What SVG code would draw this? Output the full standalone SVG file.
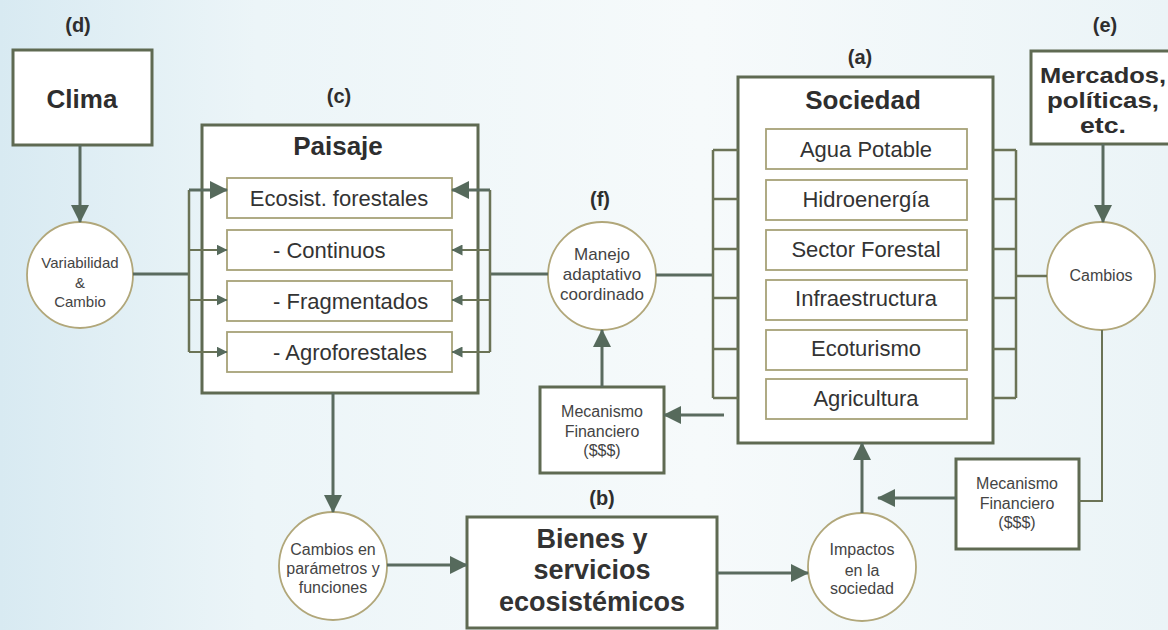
<svg xmlns="http://www.w3.org/2000/svg" width="1168" height="630" viewBox="0 0 1168 630">
<defs>
<linearGradient id="bg" x1="0" y1="0" x2="1" y2="0">
<stop offset="0" stop-color="#d8eaf2"/>
<stop offset="0.22" stop-color="#ecf5f8"/>
<stop offset="0.6" stop-color="#f6fafb"/>
<stop offset="1" stop-color="#ebf4f7"/>
</linearGradient>
<marker id="big" viewBox="0 0 18 18" markerWidth="18" markerHeight="18" refX="17" refY="9" orient="auto" markerUnits="userSpaceOnUse">
<path d="M0,0 L18,9 L0,18 z" fill="#566a5c"/>
</marker>
<marker id="small" viewBox="0 0 11 11" markerWidth="11" markerHeight="11" refX="10.5" refY="5.5" orient="auto" markerUnits="userSpaceOnUse">
<path d="M0,0 L11,5.5 L0,11 z" fill="#566a5c"/>
</marker>
</defs>
<style>
.box{fill:#fff;stroke:#5f6a52;stroke-width:3}
.inner{fill:#fff;stroke:#a7a278;stroke-width:1.8}
.circ{fill:#fff;stroke:#b1a77a;stroke-width:1.8}
.ln{fill:none;stroke:#5a6b5f;stroke-width:3}
.br{fill:none;stroke:#6b7356;stroke-width:2.5}
.th{fill:none;stroke:#6b7356;stroke-width:2}
text{font-family:"Liberation Sans",Arial,sans-serif;text-anchor:middle}
.lbl{font-size:20px;font-weight:bold;fill:#2e2e2e}
.title{font-size:26px;font-weight:bold;fill:#2e2e2e}
.merc{font-size:22px;font-weight:bold;fill:#2e2e2e}
.big{font-size:27px;font-weight:bold;fill:#333}
.item{font-size:22px;fill:#333}
.left{text-anchor:start}
.sm{font-size:16px;fill:#444}
</style>
<rect x="0" y="0" width="1168" height="630" fill="url(#bg)"/>

<g id="labels">
<text class="lbl" x="78" y="32">(d)</text>
<text class="lbl" x="339" y="103">(c)</text>
<text class="lbl" x="600" y="206">(f)</text>
<text class="lbl" x="860" y="64">(a)</text>
<text class="lbl" x="1105" y="32">(e)</text>
<text class="lbl" x="602" y="505">(b)</text>
</g>

<g id="clima">
<rect class="box" x="13" y="50" width="139" height="95"/>
<text class="title" x="82" y="108">Clima</text>
</g>

<g id="variabilidad">
<circle class="circ" cx="80" cy="275" r="53"/>
<text class="sm" x="80" y="268" style="font-size:15px">Variabilidad</text>
<text class="sm" x="80" y="288" style="font-size:15px">&amp;</text>
<text class="sm" x="80" y="307" style="font-size:15px">Cambio</text>
</g>

<g id="paisaje">
<rect class="box" x="202" y="125" width="276" height="268"/>
<text class="title" x="338" y="155">Paisaje</text>
<rect class="inner" x="227" y="178" width="225" height="40"/>
<text class="item" x="339" y="206">Ecosist. forestales</text>
<rect class="inner" x="227" y="230" width="225" height="40"/>
<text class="item left" x="273" y="258">- Continuos</text>
<rect class="inner" x="227" y="281" width="225" height="40"/>
<text class="item left" x="273" y="309">- Fragmentados</text>
<rect class="inner" x="227" y="332" width="225" height="40"/>
<text class="item left" x="273" y="360">- Agroforestales</text>
</g>

<g id="manejo">
<circle class="circ" cx="602" cy="276" r="54"/>
<text class="sm" x="602" y="260" style="font-size:17px">Manejo</text>
<text class="sm" x="602" y="280" style="font-size:17px">adaptativo</text>
<text class="sm" x="602" y="300" style="font-size:17px">coordinado</text>
</g>

<g id="mecanismo-izq">
<rect class="box" x="540" y="387" width="124" height="86"/>
<text class="sm" x="602" y="417">Mecanismo</text>
<text class="sm" x="602" y="437">Financiero</text>
<text class="sm" x="602" y="456">($$$)</text>
</g>

<g id="sociedad">
<rect class="box" x="738" y="77" width="255" height="366"/>
<text class="title" x="863" y="109">Sociedad</text>
<rect class="inner" x="766" y="129" width="201" height="40"/>
<text class="item" x="866" y="157">Agua Potable</text>
<rect class="inner" x="766" y="180" width="201" height="40"/>
<text class="item" x="866" y="207">Hidroenergía</text>
<rect class="inner" x="766" y="230" width="201" height="40"/>
<text class="item" x="866" y="257">Sector Forestal</text>
<rect class="inner" x="766" y="280" width="201" height="40"/>
<text class="item" x="866" y="306">Infraestructura</text>
<rect class="inner" x="766" y="330" width="201" height="40"/>
<text class="item" x="866" y="356">Ecoturismo</text>
<rect class="inner" x="766" y="379" width="201" height="40"/>
<text class="item" x="866" y="406">Agricultura</text>
</g>

<g id="mercados">
<rect class="box" x="1031" y="51" width="150" height="93"/>
<text class="merc" x="1103" y="83" textLength="126" lengthAdjust="spacingAndGlyphs">Mercados,</text>
<text class="merc" x="1103" y="108" textLength="112" lengthAdjust="spacingAndGlyphs">políticas,</text>
<text class="merc" x="1103" y="133" textLength="46" lengthAdjust="spacingAndGlyphs">etc.</text>
</g>

<g id="cambios">
<circle class="circ" cx="1101" cy="276" r="54"/>
<text class="sm" x="1101" y="281">Cambios</text>
</g>

<g id="mecanismo-der">
<rect class="box" x="956" y="459" width="123" height="90"/>
<text class="sm" x="1017" y="489">Mecanismo</text>
<text class="sm" x="1017" y="509">Financiero</text>
<text class="sm" x="1017" y="528">($$$)</text>
</g>

<g id="cambios-parametros">
<circle class="circ" cx="333" cy="566" r="54"/>
<text class="sm" x="333" y="555">Cambios en</text>
<text class="sm" x="333" y="574">parámetros y</text>
<text class="sm" x="333" y="593">funciones</text>
</g>

<g id="bienes">
<rect class="box" x="467" y="517" width="250" height="111"/>
<text class="big" x="592" y="548">Bienes y</text>
<text class="big" x="592" y="579">servicios</text>
<text class="big" x="592" y="611">ecosistémicos</text>
</g>

<g id="impactos">
<circle class="circ" cx="862" cy="567" r="54"/>
<text class="sm" x="862" y="555">Impactos</text>
<text class="sm" x="862" y="576">en la</text>
<text class="sm" x="862" y="594">sociedad</text>
</g>

<g id="connectors">
<path class="ln" d="M80,145 V222" marker-end="url(#big)"/>
<path class="ln" d="M133,274 H189"/>
<path class="br" d="M189,190 V352"/>
<path class="ln" d="M189,190 H227" marker-end="url(#big)"/>
<path class="th" d="M189,250 H227" marker-end="url(#small)"/>
<path class="th" d="M189,300 H227" marker-end="url(#small)"/>
<path class="th" d="M189,352 H227" marker-end="url(#small)"/>
<path class="ln" d="M548,274 H490"/>
<path class="br" d="M490,190 V352"/>
<path class="ln" d="M490,190 H452" marker-end="url(#big)"/>
<path class="th" d="M490,250 H452" marker-end="url(#small)"/>
<path class="th" d="M490,300 H452" marker-end="url(#small)"/>
<path class="th" d="M490,352 H452" marker-end="url(#small)"/>
<path class="ln" d="M656,275 H713"/>
<path class="br" d="M713,150 V398 M713,150 H738 M713,199 H738 M713,249 H738 M713,298 H738 M713,349 H738 M713,398 H738"/>
<path class="ln" d="M724,415 H664" marker-end="url(#big)"/>
<path class="ln" d="M602,387 V330" marker-end="url(#big)"/>
<path class="ln" d="M333,393 V512" marker-end="url(#big)"/>
<path class="ln" d="M387,565 H467" marker-end="url(#big)"/>
<path class="ln" d="M717,573 H808" marker-end="url(#big)"/>
<path class="ln" d="M862,513 V443" marker-end="url(#big)"/>
<path class="ln" d="M956,498 H878" marker-end="url(#big)"/>
<path class="th" d="M1102,330 V501 H1079"/>
<path class="ln" d="M1103,144 V222" marker-end="url(#big)"/>
<path class="br" d="M1047,276 H1016"/>
<path class="br" d="M1016,150 V398 M993,150 H1016 M993,199 H1016 M993,249 H1016 M993,298 H1016 M993,349 H1016 M993,398 H1016"/>
</g>
</svg>
